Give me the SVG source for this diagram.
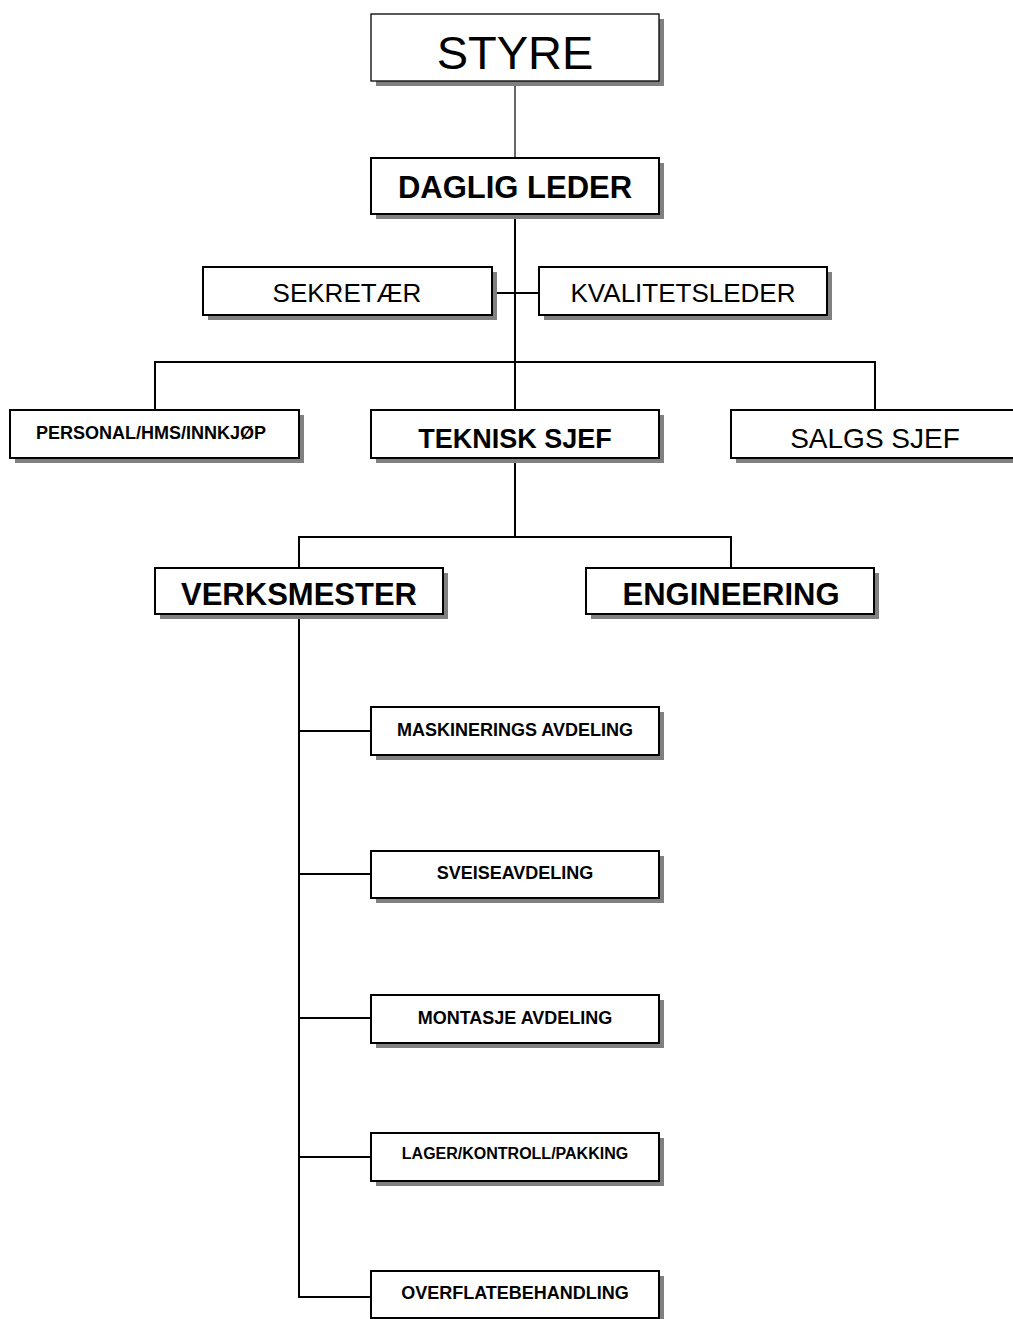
<svg xmlns="http://www.w3.org/2000/svg" width="1013" height="1319" viewBox="0 0 1013 1319">
<style>
  .shadow { fill: #808080; }
  .box { fill: #ffffff; stroke: #000000; stroke-width: 2; }
  .thin { stroke-width: 1.3; }
  .conn { stroke: #000000; stroke-width: 2; fill: none; }
  text { font-family: "Liberation Sans", Arial, sans-serif; fill: #000000; text-anchor: middle; }
  .b { font-weight: bold; }
  .s18 { font-size: 18px; }
</style>
<rect width="1013" height="1319" fill="#ffffff"/>
<g id="connectors">
  <line class="conn" x1="515" y1="81" x2="515" y2="158" style="stroke-width:1.2"/>
  <line class="conn" x1="515" y1="214" x2="515" y2="410"/>
  <line class="conn" x1="492" y1="293" x2="539" y2="293"/>
  <polyline class="conn" points="155,410 155,362 875,362 875,410"/>
  <line class="conn" x1="515" y1="458" x2="515" y2="537"/>
  <polyline class="conn" points="299,568 299,537 731,537 731,568"/>
  <line class="conn" x1="299" y1="614" x2="299" y2="1298"/>
  <line class="conn" x1="299" y1="731" x2="371" y2="731"/>
  <line class="conn" x1="299" y1="874" x2="371" y2="874"/>
  <line class="conn" x1="299" y1="1018" x2="371" y2="1018"/>
  <line class="conn" x1="299" y1="1157" x2="371" y2="1157"/>
  <line class="conn" x1="299" y1="1297" x2="371" y2="1297"/>
</g>
<g id="styre">
  <rect class="shadow" x="376" y="19" width="288" height="67"/>
  <rect class="box thin" x="371" y="14" width="288" height="67"/>
  <text x="515" y="69" style="font-size:47px">STYRE</text>
</g>
<g id="daglig-leder">
  <rect class="shadow" x="376" y="163" width="288" height="56"/>
  <rect class="box" x="371" y="158" width="288" height="56"/>
  <text class="b" x="515" y="198" style="font-size:31px">DAGLIG LEDER</text>
</g>
<g id="sekretaer">
  <rect class="shadow" x="208" y="272" width="289" height="48"/>
  <rect class="box" x="203" y="267" width="289" height="48"/>
  <text x="347" y="302" style="font-size:26px">SEKRETÆR</text>
</g>
<g id="kvalitetsleder">
  <rect class="shadow" x="544" y="272" width="288" height="48"/>
  <rect class="box" x="539" y="267" width="288" height="48"/>
  <text x="683" y="302" style="font-size:26px">KVALITETSLEDER</text>
</g>
<g id="personal">
  <rect class="shadow" x="15" y="415" width="289" height="48"/>
  <rect class="box" x="10" y="410" width="289" height="48"/>
  <text class="b s18" x="151" y="439">PERSONAL/HMS/INNKJØP</text>
</g>
<g id="teknisk-sjef">
  <rect class="shadow" x="376" y="415" width="288" height="48"/>
  <rect class="box" x="371" y="410" width="288" height="48"/>
  <text class="b" x="515" y="448" style="font-size:27px">TEKNISK SJEF</text>
</g>
<g id="salgs-sjef">
  <rect class="shadow" x="736" y="415" width="290" height="48"/>
  <rect class="box" x="731" y="410" width="290" height="48"/>
  <text x="875" y="448" style="font-size:28px">SALGS SJEF</text>
</g>
<g id="verksmester">
  <rect class="shadow" x="160" y="573" width="288" height="46"/>
  <rect class="box" x="155" y="568" width="288" height="46"/>
  <text class="b" x="299" y="605" style="font-size:31px">VERKSMESTER</text>
</g>
<g id="engineering">
  <rect class="shadow" x="591" y="573" width="288" height="46"/>
  <rect class="box" x="586" y="568" width="288" height="46"/>
  <text class="b" x="731" y="605" style="font-size:31px">ENGINEERING</text>
</g>
<g id="maskinerings">
  <rect class="shadow" x="376" y="712" width="288" height="48"/>
  <rect class="box" x="371" y="707" width="288" height="48"/>
  <text class="b s18" x="515" y="736">MASKINERINGS AVDELING</text>
</g>
<g id="sveiseavdeling">
  <rect class="shadow" x="376" y="856" width="288" height="47"/>
  <rect class="box" x="371" y="851" width="288" height="47"/>
  <text class="b s18" x="515" y="879">SVEISEAVDELING</text>
</g>
<g id="montasje">
  <rect class="shadow" x="376" y="1000" width="288" height="48"/>
  <rect class="box" x="371" y="995" width="288" height="48"/>
  <text class="b s18" x="515" y="1024">MONTASJE AVDELING</text>
</g>
<g id="lager">
  <rect class="shadow" x="376" y="1138" width="288" height="48"/>
  <rect class="box" x="371" y="1133" width="288" height="48"/>
  <text class="b" x="515" y="1159" style="font-size:16px">LAGER/KONTROLL/PAKKING</text>
</g>
<g id="overflatebehandling">
  <rect class="shadow" x="376" y="1276" width="288" height="48"/>
  <rect class="box" x="371" y="1271" width="288" height="47"/>
  <text class="b s18" x="515" y="1299">OVERFLATEBEHANDLING</text>
</g>
</svg>
